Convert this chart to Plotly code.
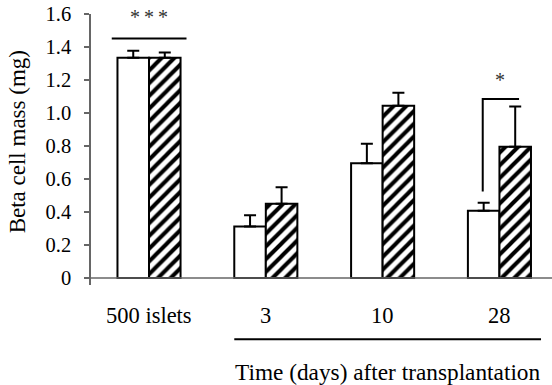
import plotly.graph_objects as go

categories = ["500 islets", "3", "10", "28"]
control_mean = [1.335, 0.313, 0.695, 0.408]
control_err = [0.043, 0.067, 0.119, 0.048]
treated_mean = [1.335, 0.450, 1.044, 0.796]
treated_err = [0.032, 0.101, 0.079, 0.244]
ytick_vals = [0, 0.2, 0.4, 0.6, 0.8, 1.0, 1.2, 1.4, 1.6]
ytick_text = ["0", "0.2", "0.4", "0.6", "0.8", "1.0", "1.2", "1.4", "1.6"]

FONT = "Liberation Serif"
BW = 0.27
pos = list(range(len(categories)))

fig = go.Figure()
fig.add_trace(go.Bar(
    x=pos, y=control_mean, width=BW, offset=-BW,
    marker=dict(color="white", line=dict(color="black", width=2)),
    error_y=dict(type="data", array=control_err, symmetric=False, arrayminus=[0]*4,
                 color="black", thickness=2, width=6),
    showlegend=False, hoverinfo="skip",
))
fig.add_trace(go.Bar(
    x=pos, y=treated_mean, width=BW, offset=0,
    marker=dict(color="white", line=dict(color="black", width=2),
                pattern=dict(shape="/", fgcolor="black", bgcolor="white", fgopacity=1,
                             size=9, solidity=0.45)),
    error_y=dict(type="data", array=treated_err, symmetric=False, arrayminus=[0]*4,
                 color="black", thickness=2, width=6),
    showlegend=False, hoverinfo="skip",
))

fig.update_layout(
    width=552, height=385,
    margin=dict(l=91, r=0, t=14, b=100),
    paper_bgcolor="white", plot_bgcolor="white",
    barmode="overlay",
    font=dict(family=FONT, color="black", size=20),
    xaxis=dict(range=[-0.4966, 3.45], showline=False, showticklabels=False, ticks="",
               showgrid=False, zeroline=False),
    yaxis=dict(range=[-0.042, 1.6], tickvals=ytick_vals, ticktext=ytick_text,
               showline=True, linecolor="#666666", linewidth=1.5,
               ticks="outside", ticklen=5, tickcolor="#666666", tickwidth=1.5,
               ticklabelstandoff=9, tickfont=dict(size=20.5, family=FONT, color="black"),
               showgrid=False, zeroline=False),
)

# x axis baseline
fig.add_shape(type="line", xref="paper", yref="y", x0=-0.013, x1=1, y0=0, y1=0,
              line=dict(color="#666666", width=1.5))

# category labels
for p, c in zip(pos, categories):
    fig.add_annotation(x=p, y=-0.111, xref="x", yref="paper", text=c, showarrow=False,
                       font=dict(size=22.5, family=FONT), yanchor="middle")

# time underline and title
fig.add_shape(type="line", xref="x", yref="paper", x0=0.73, x1=3.356, y0=-0.2, y1=-0.2,
              line=dict(color="black", width=2))
fig.add_annotation(x=2.043, y=-0.32, xref="x", yref="paper",
                   text="Time (days) after transplantation", showarrow=False,
                   font=dict(size=23.3, family=FONT), yanchor="middle")

# y title
fig.add_annotation(x=-0.159, y=0.529, xref="paper", yref="paper", text="Beta cell mass (mg)",
                   textangle=-90, showarrow=False, font=dict(size=23, family=FONT),
                   xanchor="center", yanchor="middle")

# significance marks
fig.add_shape(type="line", xref="x", yref="y", x0=-0.319, x1=0.321, y0=1.452, y1=1.452,
              line=dict(color="black", width=2))
fig.add_annotation(x=0, y=1.584, xref="x", yref="y", text="*\u2009*\u2009*", showarrow=False,
                   font=dict(size=20, family=FONT, color="#333333"), yanchor="middle")
fig.add_shape(type="path", xref="x", yref="y",
              path="M 2.857 0.525 L 2.857 1.085 L 3.168 1.085",
              line=dict(color="black", width=2))
fig.add_annotation(x=3.005, y=1.198, xref="x", yref="y", text="*", showarrow=False,
                   font=dict(size=20, family=FONT, color="#333333"), yanchor="middle")

fig.write_html("out.html", post_script="document.body.style.margin='0';",
               config={"displayModeBar": False})
